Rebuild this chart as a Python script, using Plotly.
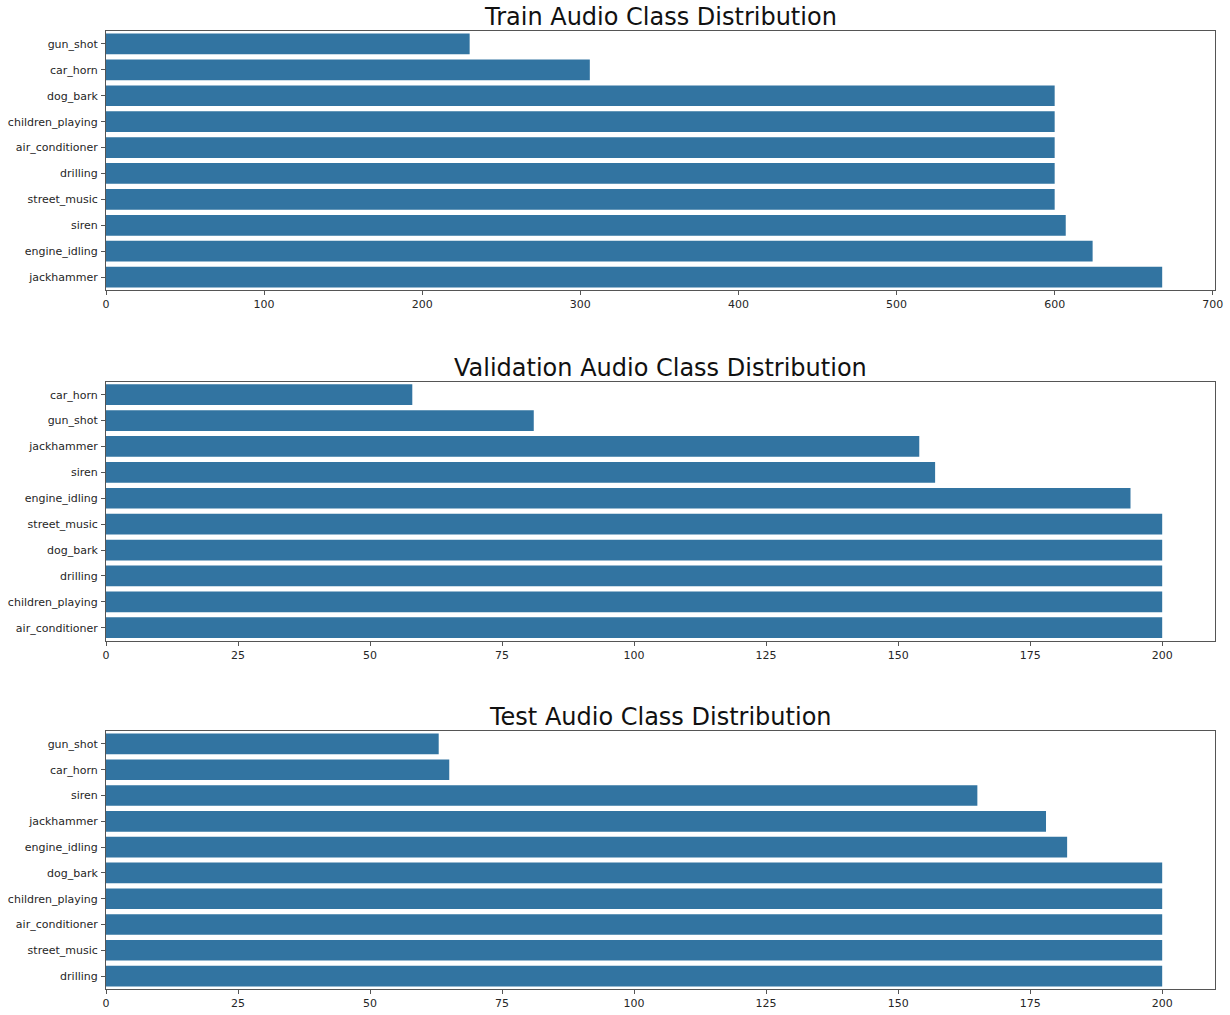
import plotly.graph_objects as go
from plotly.subplots import make_subplots

# Class counts per split (top-to-bottom order as plotted)
train_classes = ["gun_shot", "car_horn", "dog_bark", "children_playing", "air_conditioner",
                 "drilling", "street_music", "siren", "engine_idling", "jackhammer"]
train_counts = [230, 306, 600, 600, 600, 600, 600, 607, 624, 668]

val_classes = ["car_horn", "gun_shot", "jackhammer", "siren", "engine_idling",
               "street_music", "dog_bark", "drilling", "children_playing", "air_conditioner"]
val_counts = [58, 81, 154, 157, 194, 200, 200, 200, 200, 200]

test_classes = ["gun_shot", "car_horn", "siren", "jackhammer", "engine_idling",
                "dog_bark", "children_playing", "air_conditioner", "street_music", "drilling"]
test_counts = [63, 65, 165, 178, 182, 200, 200, 200, 200, 200]

titles = ["Train Audio Class Distribution",
          "Validation Audio Class Distribution",
          "Test Audio Class Distribution"]

BAR_COLOR = "#3274a1"
TEXT = "#262626"
SPINE = "#555555"
FONT = "DejaVu Sans"

fig = make_subplots(rows=3, cols=1)

splits = [(train_classes, train_counts, 100),
          (val_classes, val_counts, 25),
          (test_classes, test_counts, 25)]

domains = [[0.7296, 1.0], [0.3636, 0.6339], [0.0, 0.2693]]

for i, (cls, cnt, dt) in enumerate(splits, start=1):
    fig.add_trace(go.Bar(x=cnt, y=cls, orientation="h",
                         marker=dict(color=BAR_COLOR, line=dict(width=0)),
                         showlegend=False, hoverinfo="x+y"),
                  row=i, col=1)
    upper = max(cnt) * 1.05
    fig.update_xaxes(range=[0, upper], dtick=dt, tick0=0, automargin=False,
                     showgrid=False, zeroline=False,
                     showline=True, linecolor=SPINE, linewidth=1, mirror=True,
                     ticks="outside", ticklen=4, tickcolor=SPINE,
                     tickfont=dict(size=11, color=TEXT, family=FONT),
                     row=i, col=1)
    fig.update_yaxes(categoryorder="array", categoryarray=cls[::-1],
                     range=[-0.5, len(cls) - 0.5], automargin=False,
                     showgrid=False, zeroline=False,
                     showline=True, linecolor=SPINE, linewidth=1, mirror=True,
                     ticks="outside", ticklen=4, tickcolor=SPINE,
                     ticklabelstandoff=1,
                     tickfont=dict(size=11, color=TEXT, family=FONT),
                     domain=domains[i - 1],
                     row=i, col=1)

annotations = []
title_y = [1.0, 0.6339, 0.2693]
for t, yy in zip(titles, title_y):
    annotations.append(dict(text=t, x=0.5, xref="paper", y=yy, yref="paper",
                            xanchor="center", yanchor="bottom", yshift=-2,
                            showarrow=False,
                            font=dict(size=24, color="#111111", family=FONT)))

fig.update_layout(width=1230, height=1015,
                  margin=dict(l=106, r=15, t=31, b=26),
                  bargap=0.2, plot_bgcolor="white", paper_bgcolor="white",
                  annotations=annotations,
                  font=dict(family=FONT, color=TEXT))

fig.write_html("out.html")
